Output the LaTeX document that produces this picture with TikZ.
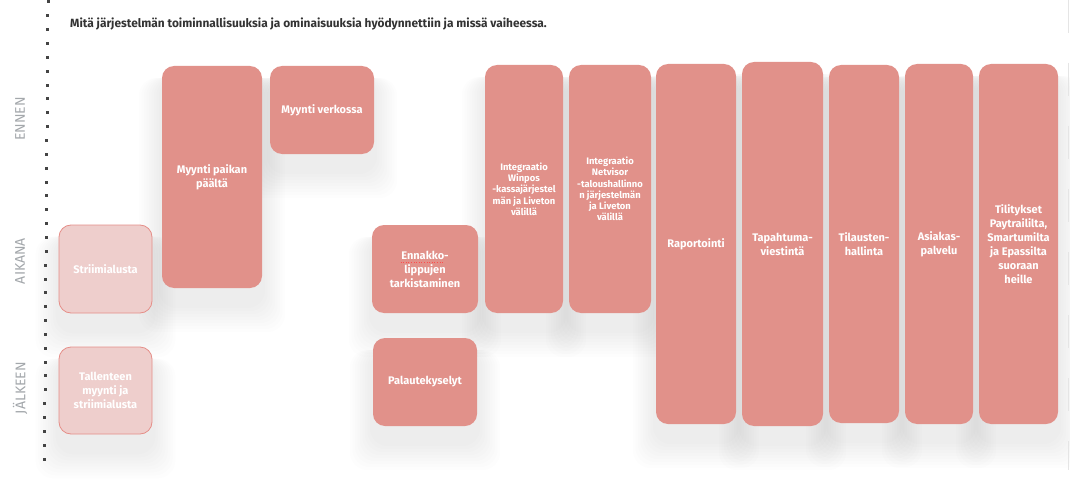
\documentclass[tikz,border=0pt]{standalone}
\usepackage{fontspec}
\setmainfont{Fira Sans}
\definecolor{boxc}{HTML}{E1918A}
\definecolor{lightc}{HTML}{EECECC}
\definecolor{lightd}{HTML}{E58E88}
\definecolor{titlec}{HTML}{333333}
\definecolor{phasec}{HTML}{A3A7AB}
\definecolor{dotc}{HTML}{444444}
\pgfdeclarelayer{bg}
\pgfsetlayers{bg,main}
\tikzset{
  card/.style={rounded corners=12pt, fill=boxc, draw=none, text=white, inner sep=0pt,
    align=center, font=\bfseries\fontsize{11}{14}\selectfont},
  lightcard/.style={card, fill=lightc, draw=lightd, line width=0.8pt},
  smallcard/.style={card, font=\bfseries\fontsize{9.4}{11.3}\selectfont},
  phase/.style={rotate=90, text=phasec, font=\fontsize{14}{14}\selectfont, inner sep=0pt},
  shadowpiece/.style={fill=black, fill opacity=0.0065, draw=none, rounded corners=18pt},
}
\begin{document}
\begin{tikzpicture}[x=1pt,y=-1pt]
\useasboundingbox (0,0) rectangle (1070,492);
\begin{pgfonlayer}{bg}
\fill[white] (0,0) rectangle (1070,492);
\end{pgfonlayer}
% right faint edge
\draw[black!10, line width=0.8pt, dash pattern=on 33pt off 30pt] (1068.5,0) -- (1068.5,470);
% dotted axis
\foreach \i in {0,...,33} {
  \fill[dotc] ({48-3.5*\i/33-1.5},{2+13.85*\i-1.5}) rectangle ++(3,3);
}
% phase labels
\node[phase] (ennen) at (20,119) {ENNEN};
\node[phase] (aikana) at (20,261) {AIKANA};
\node[phase] (jalkeen) at (20,388) {JÄLKEEN};
% title
\node[anchor=west, text=titlec, font=\bfseries\fontsize{11.9}{13}\selectfont, inner sep=0pt] (title) at (70,24)
  {Mitä järjestelmän toiminnallisuuksia ja ominaisuuksia hyödynnettiin ja missä vaiheessa.};
% cards
\node[lightcard, minimum width=93pt, minimum height=88pt] (striim) at (105.5,269) {Striimialusta};
\node[lightcard, minimum width=93pt, minimum height=87pt] (tall) at (105.5,390.5) {Tallenteen\\myynti ja\\striimialusta};
\node[card, minimum width=100pt, minimum height=222pt] (paikan) at (212,177) {Myynti paikan\\päältä};
\node[card, minimum width=104pt, minimum height=88pt] (verkossa) at (322,110) {Myynti verkossa};
\node[card, minimum width=106pt, minimum height=88pt] (ennakko) at (425,269) {Ennakko-\\lippujen\\tarkistaminen};
\node[card, minimum width=104pt, minimum height=88pt] (palaute) at (425,382) {Palautekyselyt};
\node[smallcard, minimum width=78pt, minimum height=248pt] (winpos) at (524,189) {Integraatio\\Winpos\\-kassajärjestel\\män ja Liveton\\välillä};
\node[smallcard, minimum width=82pt, minimum height=248pt] (netvisor) at (610,189) {Integraatio\\Netvisor\\-taloushallinno\\n järjestelmän\\ja Liveton\\välillä};
\node[card, minimum width=80pt, minimum height=360pt] (rap) at (696,244) {Raportointi};
\node[card, minimum width=81pt, minimum height=364pt] (tap) at (782.5,244) {Tapahtuma-\\viestintä};
\node[card, minimum width=70pt, minimum height=358pt] (tilaus) at (864,244) {Tilausten-\\hallinta};
\node[card, minimum width=68pt, minimum height=360pt] (asiakas) at (939,244) {Asiakas-\\palvelu};
\node[card, minimum width=79pt, minimum height=360pt] (tili) at (1018.5,244) {Tilitykset\\Paytraililta,\\Smartumilta\\ja Epassilta\\suoraan\\heille};
% spell-check mark
\draw[red!70!white, line width=0.6pt, dotted] (400.5,262) -- (443,262);
% soft shadows
\begin{pgfonlayer}{bg}
\foreach \n in {striim,tall,paikan,verkossa,ennakko,palaute,winpos,netvisor,rap,tap,tilaus,asiakas,tili} {
  \foreach \k in {0,...,8} {
    \fill[shadowpiece] ([xshift={-3pt-2.5pt*\k}, yshift={-12pt}]\n.north west)
      rectangle ([xshift={3pt+2.5pt*\k}, yshift={-20pt-3pt*\k}]\n.south east);
  }
}
\end{pgfonlayer}
\end{tikzpicture}
\end{document}
